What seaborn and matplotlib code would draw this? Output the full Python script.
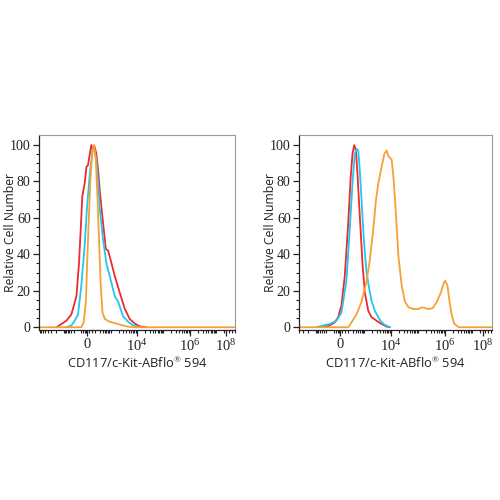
import numpy as np
import pandas as pd
import matplotlib
matplotlib.use("Agg")
import matplotlib.pyplot as plt
import seaborn as sns

# ---------------- data (x in display units 0-100 of the logicle axis) -------------
L_red_x = [8.9, 14.0, 16.5, 19.1, 20.4, 21.3, 22.1, 23.3, 24.2, 25.0, 25.9, 26.7, 27.6, 28.4, 29.3,
           30.2, 31.0, 32.7, 34.1, 35.3, 37.0, 38.7, 41.2, 43.8, 46.3, 48.9, 51.4, 54.9]
L_red_y = [0, 3.6, 7, 17, 35, 54, 72, 79, 88, 89, 95, 100, 97, 99, 95,
           86, 75, 57, 43, 42, 35, 28, 19, 10, 4.5, 2, 0.5, 0]
L_cyan_x = [14.0, 16.5, 18.2, 19.9, 21.6, 23.3, 24.5, 25.9, 27.3, 28.1, 29.3, 30.2, 31.0, 32.7,
            34.4, 36.1, 38.7, 40.4, 42.9, 45.5, 48.0, 51.4]
L_cyan_y = [0, 1, 3.6, 7, 23, 45, 66, 84, 97, 98, 92, 79, 65, 48,
            35, 28, 17, 14, 6, 3, 1, 0]
L_orange_x = [0, 21.6, 22.8, 23.9, 25.0, 26.2, 27.3, 28.1, 29.0, 29.8, 30.7, 31.5, 32.4, 33.6,
              36.1, 39.5, 44.6, 48.0, 100]
L_orange_y = [0, 0, 2.7, 14, 48, 81, 97, 100, 92, 72, 46, 23, 8, 4.5,
              3, 2, 0.5, 0, 0]

R_red_x = [12.5, 15.9, 18.5, 20.3, 22.0, 23.7, 25.5, 26.7, 27.7, 28.6, 29.5, 30.3, 31.5, 32.9,
           34.1, 35.9, 37.6, 40.2, 42.8, 45.4, 47.1]
R_red_y = [0, 1, 2.7, 5.5, 12, 28, 57, 81, 95, 100, 97, 84, 61, 35,
           19, 9, 5.5, 3.6, 1.8, 0.4, 0]
R_cyan_x = [9.0, 12.5, 15.9, 19.4, 22.0, 24.6, 26.3, 27.7, 28.9, 29.8, 30.7, 31.5, 32.4, 33.6,
            35.0, 36.4, 37.6, 39.3, 41.1, 42.8, 44.5, 47.1]
R_cyan_y = [0, 1, 1.8, 3.6, 8, 26, 54, 79, 95, 98, 97, 86, 70, 48,
            30, 21, 14.5, 9, 5.5, 2.7, 1.3, 0]
R_orange_x = [0, 25.5, 27.2, 29.8, 32.4, 35.0, 36.7, 38.5, 39.9, 41.1, 42.8, 44.2, 45.4, 46.3,
              47.1, 48.0, 48.9, 50.3, 51.5, 53.2, 54.9, 56.7, 59.3, 61.9, 63.6, 65.3, 67.1,
              69.3, 71.4, 73.5, 74.9, 75.7, 76.9, 78.0, 79.2, 80.4, 82.7, 100]
R_orange_y = [0, 0, 2.7, 7, 14, 25, 37, 54, 70, 79, 88, 95, 97, 94,
              93, 92, 83, 61, 39, 23, 14, 11, 10, 10, 11, 10.5, 10,
              10.5, 14, 19, 24, 25.5, 23, 14, 6.4, 2, 0, 0]

tick_labels = ["0", r"$\mathrm{10^{4}}$", r"$\mathrm{10^{6}}$", r"$\mathrm{10^{8}}$"]
L_tick_pos = [24.5, 50.0, 77.0, 95.5]
R_tick_pos = [21.2, 47.7, 75.6, 95.3]

y_ticks = [0, 20, 40, 60, 80, 100]

colors = {"red": "#ee2a2e", "cyan": "#23c6ee", "orange": "#f7a037"}

# ---------------- style ----------------
sns.set_theme(style="white")
plt.rcParams["font.family"] = ["Open Sans", "DejaVu Sans"]
plt.rcParams["mathtext.fontset"] = "custom"
plt.rcParams["mathtext.rm"] = "Liberation Serif"

fig = plt.figure(figsize=(5, 5), dpi=100)
ax_l = fig.add_axes([0.078, 0.34, 0.392, 0.39])
ax_r = fig.add_axes([0.598, 0.34, 0.386, 0.39])


def minor_positions(p0, p4, p6):
    d = (p6 - p4) / 2.0
    out = []
    for k in range(1, 9):
        for m in range(1, 10):
            v = p4 + (k + np.log10(m) - 4) * d
            if p0 + 6 < v < 100:
                out.append(v)
            vn = 2 * p0 - (p4 + (k + np.log10(m) - 4) * d)
            if 0 < vn < p0 - 6:
                out.append(vn)
    out += [p0 - 3, p0 - 2, p0 - 1.2, p0 - 0.6, p0 + 1, p0 + 2.5, p0 + 4]
    return sorted(out)


def draw(ax, series, tick_pos, ylab_x):
    for (xs, ys, c) in series:
        df = pd.DataFrame({"x": xs, "y": ys})
        sns.lineplot(data=df, x="x", y="y", ax=ax, color=c, linewidth=1.3,
                     sort=False, estimator=None)
    ax.set_xlim(0, 100)
    ax.set_ylim(-1.5, 105.5)
    ax.set_xticks(tick_pos)
    ax.set_xticklabels(tick_labels, fontfamily="Liberation Serif", fontsize=10.5)
    ax.set_xticks(minor_positions(tick_pos[0], tick_pos[1], tick_pos[2]), minor=True)
    ax.set_yticks(y_ticks)
    ax.set_yticklabels([str(v) for v in y_ticks], fontfamily="Liberation Serif", fontsize=10)
    ax.set_yticks(np.arange(0, 101, 5), minor=True)
    ax.tick_params(axis="both", which="major", direction="out", length=4, width=0.9,
                   color="#222222", labelcolor="#222222", bottom=True, left=True, pad=2)
    ax.tick_params(axis="both", which="minor", direction="out", length=2, width=0.8,
                   color="#222222", bottom=True, left=True)
    ax.tick_params(axis="x", which="major", pad=2)
    for s in ["left", "bottom"]:
        ax.spines[s].set_color("#222222")
        ax.spines[s].set_linewidth(0.9)
    for s in ["top", "right"]:
        ax.spines[s].set_color("#9a9a9a")
        ax.spines[s].set_linewidth(0.8)
    ax.set_xlabel(r"CD117/c-Kit-ABflo$^{\mathrm{®}}$ 594", fontsize=9.3, labelpad=1,
                  color="#222222")
    ax.set_ylabel("Relative Cell Number", fontsize=8.8, color="#222222", va="center")
    ax.yaxis.set_label_coords(ylab_x, 0.5)


draw(ax_l, [(L_red_x, L_red_y, colors["red"]),
            (L_cyan_x, L_cyan_y, colors["cyan"]),
            (L_orange_x, L_orange_y, colors["orange"])], L_tick_pos, -0.143)
draw(ax_r, [(R_red_x, R_red_y, colors["red"]),
            (R_cyan_x, R_cyan_y, colors["cyan"]),
            (R_orange_x, R_orange_y, colors["orange"])], R_tick_pos, -0.150)

fig.savefig("out.png", dpi=100, facecolor="white")
